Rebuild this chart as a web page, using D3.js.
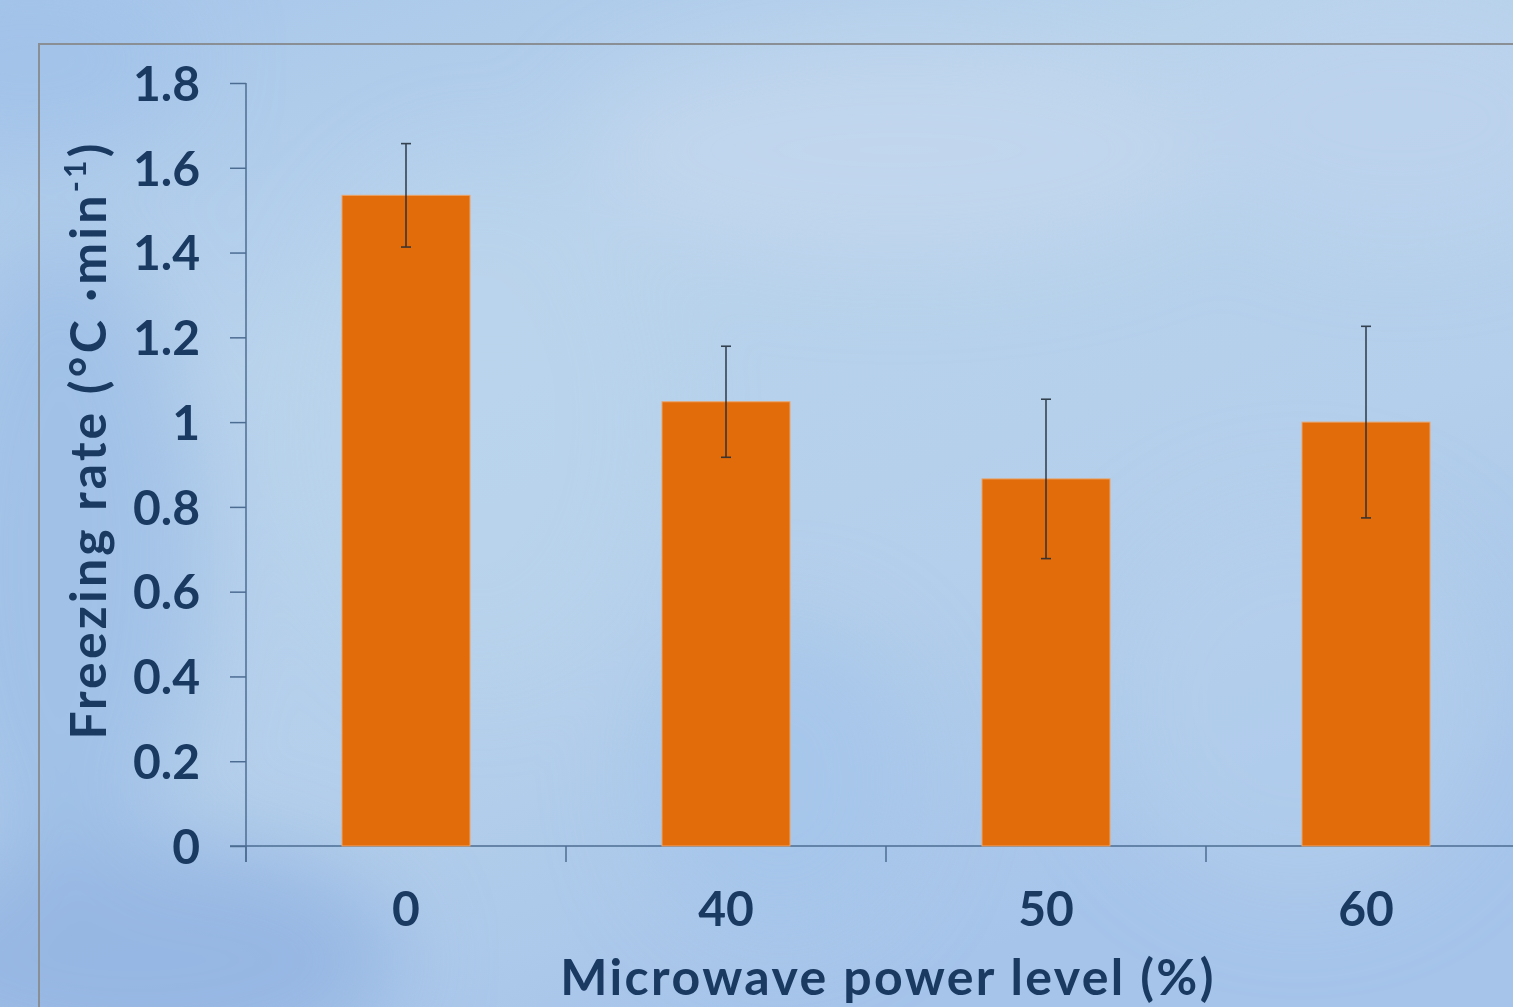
<!DOCTYPE html>
<html>
<head>
<meta charset="utf-8">
<script src="https://cdn.jsdelivr.net/npm/d3@7"></script>
<style>
  html, body { margin: 0; padding: 0; overflow: hidden; background: #a9c7ea; }
  svg { display: block; }
  text { font-family: "Lato", "Open Sans", sans-serif; font-weight: 700; fill: #1b3a62; }
</style>
</head>
<body>
<svg id="chart" width="1513" height="1007"></svg>
<script>
// Freezing rate by microwave power level (mean ± error)
const powerLevels = ["0", "40", "50", "60"];
const freezingRate = [1.535, 1.048, 0.866, 1.0];
const rateError = [0.122, 0.131, 0.188, 0.226];
const yTicks = [0, 0.2, 0.4, 0.6, 0.8, 1.0, 1.2, 1.4, 1.6, 1.8];

const W = 1513, H = 1007;
const svg = d3.select("#chart");
const defs = svg.append("defs");

// Soft sky-blue backdrop
const bg = defs.append("linearGradient").attr("id", "bg")
  .attr("x1", 0).attr("y1", 0).attr("x2", 0.55).attr("y2", 1);
bg.append("stop").attr("offset", "0%").attr("stop-color", "#a7c6ea");
bg.append("stop").attr("offset", "35%").attr("stop-color", "#b9d3ec");
bg.append("stop").attr("offset", "70%").attr("stop-color", "#b4cfeb");
bg.append("stop").attr("offset", "100%").attr("stop-color", "#a6c4ea");
svg.append("rect").attr("width", W).attr("height", H).attr("fill", "url(#bg)");

const blur = defs.append("filter").attr("id", "soft")
  .attr("x", "-50%").attr("y", "-50%").attr("width", "200%").attr("height", "200%");
blur.append("feGaussianBlur").attr("stdDeviation", 45);

const clouds = [
  {cx: 60,   cy: 560, rx: 140, ry: 320, c: "#9cbde6", o: 0.8},
  {cx: 140,  cy: 960, rx: 260, ry: 120, c: "#93b5e2", o: 0.9},
  {cx: 780,  cy: 780, rx: 140, ry: 160, c: "#a4c4ea", o: 0.7},
  {cx: 900,  cy: 150, rx: 320, ry: 110, c: "#c4d7ee", o: 0.7},
  {cx: 1400, cy: 120, rx: 200, ry: 120, c: "#bfd3ef", o: 0.6},
  {cx: 480,  cy: 420, rx: 180, ry: 260, c: "#bcd5ee", o: 0.5},
  {cx: 1300, cy: 700, rx: 200, ry: 200, c: "#b8d2ee", o: 0.5},
  {cx: 30,   cy: 60,  rx: 160, ry: 90,  c: "#a0c0e8", o: 0.7}
];
svg.append("g").attr("filter", "url(#soft)")
  .selectAll("ellipse").data(clouds).join("ellipse")
  .attr("cx", d => d.cx).attr("cy", d => d.cy)
  .attr("rx", d => d.rx).attr("ry", d => d.ry)
  .attr("fill", d => d.c).attr("opacity", d => d.o);

// Chart frame
svg.append("path")
  .attr("d", `M39,${H + 2}V44H${W + 2}`)
  .attr("fill", "none").attr("stroke", "#8a8f96").attr("stroke-width", 2);

const x0 = 246, y0 = 846, yTop = 83;
const x = d3.scaleBand().domain(powerLevels)
  .range([x0, x0 + 1280]).paddingInner(0.6).paddingOuter(0.3);
const y = d3.scaleLinear().domain([0, 1.8]).range([y0, yTop]);

const axisColor = "#4d6c92";

// Y axis
const yAxis = svg.append("g").attr("transform", `translate(${x0},0)`)
  .call(d3.axisLeft(y).tickValues(yTicks).tickSize(16).tickSizeOuter(0).tickPadding(30)
    .tickFormat(d => String(+d.toFixed(1))));
yAxis.select(".domain").remove();
yAxis.selectAll(".tick line").attr("stroke", axisColor).attr("stroke-width", 1.5);
yAxis.selectAll(".tick text").attr("font-size", 48).attr("fill", "#1b3a62")
  .attr("font-family", "Lato, sans-serif").attr("font-weight", 700).attr("dy", "0.36em");
svg.append("line").attr("x1", x0).attr("x2", x0).attr("y1", yTop).attr("y2", y0 + 16)
  .attr("stroke", axisColor).attr("stroke-width", 1.5);

// X axis baseline and category boundary ticks
svg.append("line").attr("x1", x0 - 16).attr("x2", W + 5).attr("y1", y0).attr("y2", y0)
  .attr("stroke", axisColor).attr("stroke-width", 1.5);
const bounds = d3.range(powerLevels.length + 1).map(i => x.range()[0] + i * x.step());
svg.append("g").selectAll("line").data(bounds).join("line")
  .attr("x1", d => d).attr("x2", d => d).attr("y1", y0).attr("y2", y0 + 16)
  .attr("stroke", axisColor).attr("stroke-width", 1.5);

const xAxis = svg.append("g").attr("transform", `translate(0,${y0})`)
  .call(d3.axisBottom(x).tickSize(0).tickPadding(46));
xAxis.select(".domain").remove();
xAxis.selectAll(".tick text").attr("font-size", 48).attr("fill", "#1b3a62")
  .attr("font-family", "Lato, sans-serif").attr("font-weight", 700);

// Bars
const rows = powerLevels.map((p, i) => ({p, v: freezingRate[i], e: rateError[i]}));
svg.append("g").selectAll("rect").data(rows).join("rect")
  .attr("x", d => x(d.p)).attr("y", d => y(d.v))
  .attr("width", x.bandwidth()).attr("height", d => y(0) - y(d.v))
  .attr("fill", "#e36c0a").attr("stroke", "#eaa46a").attr("stroke-width", 1);

// Error bars
const eb = svg.append("g").attr("stroke", "#1e2a36").attr("stroke-width", 1.6).attr("opacity", 0.85);
eb.selectAll("line.v").data(rows).join("line").attr("class", "v")
  .attr("x1", d => x(d.p) + x.bandwidth() / 2).attr("x2", d => x(d.p) + x.bandwidth() / 2)
  .attr("y1", d => y(d.v + d.e)).attr("y2", d => y(d.v - d.e));
eb.selectAll("line.t").data(rows).join("line").attr("class", "t")
  .attr("x1", d => x(d.p) + x.bandwidth() / 2 - 5).attr("x2", d => x(d.p) + x.bandwidth() / 2 + 5)
  .attr("y1", d => y(d.v + d.e)).attr("y2", d => y(d.v + d.e));
eb.selectAll("line.b").data(rows).join("line").attr("class", "b")
  .attr("x1", d => x(d.p) + x.bandwidth() / 2 - 5).attr("x2", d => x(d.p) + x.bandwidth() / 2 + 5)
  .attr("y1", d => y(d.v - d.e)).attr("y2", d => y(d.v - d.e));

// Axis titles
svg.append("text").attr("x", 888).attr("y", 995).attr("text-anchor", "middle")
  .attr("font-size", 50).attr("letter-spacing", 2.4).text("Microwave power level (%)");

const yt = svg.append("text").attr("transform", "translate(106,440) rotate(-90)")
  .attr("text-anchor", "middle").attr("font-size", 50).attr("letter-spacing", 3.2);
yt.append("tspan").text("Freezing rate (°C ·min");
yt.append("tspan").attr("font-size", 30).attr("dy", -20).text("-1");
yt.append("tspan").attr("dy", 20).text(")");
</script>
</body>
</html>
